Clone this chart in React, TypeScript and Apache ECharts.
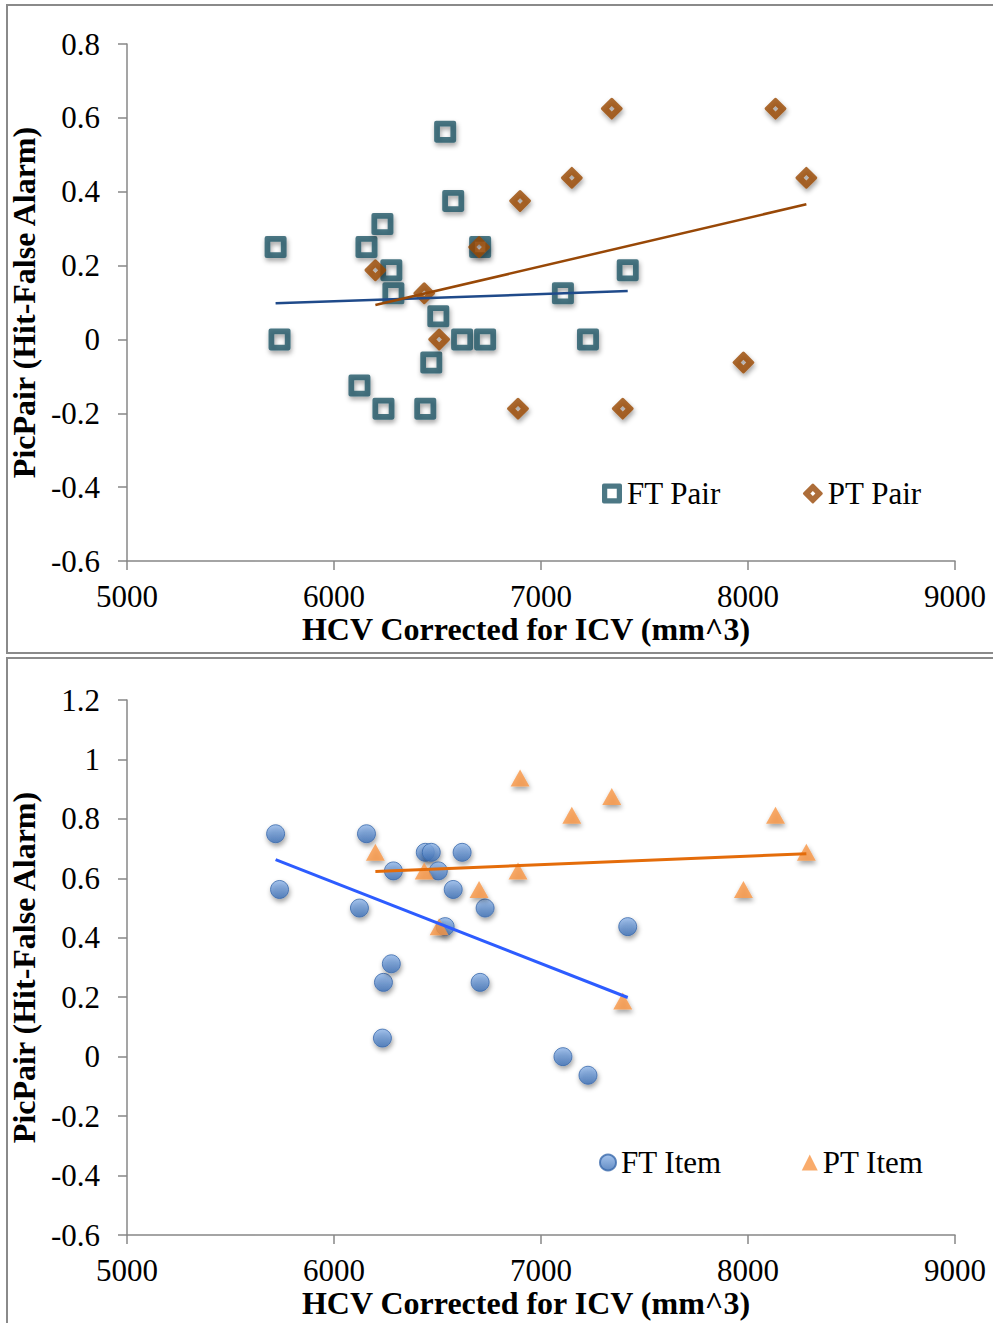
import React, { useEffect, useRef } from "react";
import * as echarts from "echarts";

// HCV values (x) of the two groups
const ftHcv = [5718, 5737, 6123, 6157, 6234, 6239, 6277, 6287, 6441, 6470, 6504, 6537, 6576, 6619, 6706, 6730, 7106, 7227, 7419];
const ptHcv = [6200, 6436, 6508, 6701, 6889, 6899, 7149, 7342, 7395, 7978, 8133, 8282];

// Top chart: pair scores
const ftPair = [0.25, 0, -0.125, 0.25, 0.3125, -0.1875, 0.1875, 0.125, -0.1875, -0.0625, 0.0625, 0.5625, 0.375, 0, 0.25, 0, 0.125, 0, 0.1875];
const ptPair = [0.1875, 0.125, 0, 0.25, -0.1875, 0.375, 0.4375, 0.625, -0.1875, -0.0625, 0.625, 0.4375];

// Bottom chart: item scores
const ftItem = [0.75, 0.5625, 0.5, 0.75, 0.0625, 0.25, 0.3125, 0.625, 0.6875, 0.6875, 0.625, 0.4375, 0.5625, 0.6875, 0.25, 0.5, 0, -0.0625, 0.4375];
const ptItem = [0.6875, 0.625, 0.4375, 0.5625, 0.625, 0.9375, 0.8125, 0.875, 0.1875, 0.5625, 0.8125, 0.6875];

// Linear trend line end points
const ftPairTrend = [[5718, 0.098], [7419, 0.131]];
const ptPairTrend = [[6200, 0.093], [8282, 0.366]];
const ftItemTrend = [[5718, 0.663], [7419, 0.199]];
const ptItemTrend = [[6200, 0.623], [8282, 0.683]];

const xTitle = "HCV Corrected for ICV (mm^3)";
const yTitle = "PicPair (Hit-False Alarm)";

const FONT = "'Liberation Serif', 'Times New Roman', serif";
const AXIS_COLOR = "#878787";
const FT_PAIR_COLOR = "#1f5666";
const PT_PAIR_COLOR = "#984807";

// hollow marker shapes (outer outline with an inner hole drawn in reverse direction)
const HOLLOW_SQUARE =
  "path://M2,0 H19 Q21,0 21,2 V19 Q21,21 19,21 H2 Q0,21 0,19 V2 Q0,0 2,0 Z M5.5,5.5 V15.5 H15.5 V5.5 Z";
const HOLLOW_DIAMOND =
  "path://M9.5,1 Q10.5,0 11.5,1 L20,9.5 Q21,10.5 20,11.5 L11.5,20 Q10.5,21 9.5,20 L1,11.5 Q0,10.5 1,9.5 Z M10.5,8 L8,10.5 L10.5,13 L13,10.5 Z";

const zip = (xs: number[], ys: number[]) => xs.map((x, i) => [x, ys[i]]);

const shadow = {
  shadowBlur: 5,
  shadowColor: "rgba(0,0,0,0.45)",
  shadowOffsetX: 1,
  shadowOffsetY: 3,
};
const noShadow = { shadowBlur: 0, shadowOffsetX: 0, shadowOffsetY: 0, shadowColor: "transparent" };

function xAxisFor(gridIndex: number) {
  return {
    gridIndex,
    type: "value",
    min: 5000,
    max: 9000,
    interval: 1000,
    name: xTitle,
    nameLocation: "middle",
    nameGap: 52,
    nameTextStyle: { fontSize: 32, fontWeight: "bold", color: "#000", fontFamily: FONT, padding: [0, 30, 0, 0] },
    axisLine: { show: true, onZero: false, lineStyle: { color: AXIS_COLOR, width: 1.5 } },
    axisTick: { show: true, length: 9, lineStyle: { color: AXIS_COLOR, width: 1.5 } },
    axisLabel: { fontSize: 31, color: "#000", fontFamily: FONT, margin: 20, formatter: (v: number) => String(v) },
    splitLine: { show: false },
  };
}

function yAxisFor(gridIndex: number, min: number, max: number) {
  return {
    gridIndex,
    type: "value",
    min,
    max,
    interval: 0.2,
    name: yTitle,
    nameLocation: "middle",
    nameGap: 73,
    nameTextStyle: { fontSize: 32, fontWeight: "bold", color: "#000", fontFamily: FONT },
    axisLine: { show: true, onZero: false, lineStyle: { color: AXIS_COLOR, width: 1.5 } },
    axisTick: { show: true, length: 9, lineStyle: { color: AXIS_COLOR, width: 1.5 } },
    axisLabel: {
      fontSize: 31,
      color: "#000",
      fontFamily: FONT,
      margin: 27,
      formatter: (v: number) => String(Math.round(v * 10) / 10),
    },
    splitLine: { show: false },
  };
}

export default function App() {
  const ref = useRef<HTMLDivElement>(null);

  useEffect(() => {
    if (!ref.current) return;
    const chart = echarts.init(ref.current, null, { renderer: "svg" });

    const circleFill = new echarts.graphic.LinearGradient(0, 0, 0, 1, [
      { offset: 0, color: "#8fb5e8" },
      { offset: 1, color: "#3d70b6" },
    ]);

    const legendCommon = {
      padding: 0,
      textStyle: { fontSize: 31, color: "#000", fontFamily: FONT },
    };

    const option: any = {
      animation: false,
      textStyle: { fontFamily: FONT },
      graphic: [
        {
          type: "rect",
          shape: { x: 7, y: 5, width: 1000, height: 648 },
          style: { fill: "none", stroke: "#8a8a8a", lineWidth: 2 },
          silent: true,
        },
        {
          type: "rect",
          shape: { x: 7, y: 658, width: 1000, height: 700 },
          style: { fill: "none", stroke: "#8a8a8a", lineWidth: 2 },
          silent: true,
        },
      ],
      grid: [
        { left: 126, width: 829, top: 44, height: 517 },
        { left: 126, width: 829, top: 700, height: 535 },
      ],
      xAxis: [xAxisFor(0), xAxisFor(1)],
      yAxis: [yAxisFor(0, -0.6, 0.8), yAxisFor(1, -0.6, 1.2)],
      legend: [
        {
          ...legendCommon,
          left: 602,
          top: 478,
          itemWidth: 20,
          itemHeight: 20,
          itemTextGap: 5,
          itemGap: 82,
          data: [
            { name: "FT Pair", itemStyle: { ...noShadow } },
            { name: "PT Pair", itemStyle: { ...noShadow } },
          ],
        },
        {
          ...legendCommon,
          left: 599,
          top: 1147,
          itemWidth: 16,
          itemHeight: 16,
          itemTextGap: 7,
          itemGap: 80,
          data: [
            { name: "FT Item", itemStyle: { ...noShadow } },
            { name: "PT Item", itemStyle: { ...noShadow } },
          ],
        },
      ],
      series: [
        {
          name: "FT Pair",
          type: "scatter",
          xAxisIndex: 0,
          yAxisIndex: 0,
          symbol: HOLLOW_SQUARE,
          symbolSize: 22,
          itemStyle: { color: FT_PAIR_COLOR, ...shadow },
          data: zip(ftHcv, ftPair),
        },
        {
          name: "PT Pair",
          type: "scatter",
          xAxisIndex: 0,
          yAxisIndex: 0,
          symbol: HOLLOW_DIAMOND,
          symbolSize: 22,
          itemStyle: { color: PT_PAIR_COLOR, ...shadow },
          data: zip(ptHcv, ptPair),
        },
        {
          name: "FT Pair trend",
          type: "line",
          xAxisIndex: 0,
          yAxisIndex: 0,
          symbol: "none",
          silent: true,
          lineStyle: { color: "#1f4a8a", width: 2.5 },
          data: ftPairTrend,
        },
        {
          name: "PT Pair trend",
          type: "line",
          xAxisIndex: 0,
          yAxisIndex: 0,
          symbol: "none",
          silent: true,
          lineStyle: { color: PT_PAIR_COLOR, width: 2.5 },
          data: ptPairTrend,
        },
        {
          name: "FT Item",
          type: "scatter",
          xAxisIndex: 1,
          yAxisIndex: 1,
          symbol: "circle",
          symbolSize: 18,
          itemStyle: { color: circleFill, borderColor: "#3a69ab", borderWidth: 1, ...shadow },
          data: zip(ftHcv, ftItem),
        },
        {
          name: "PT Item",
          type: "scatter",
          xAxisIndex: 1,
          yAxisIndex: 1,
          symbol: "triangle",
          symbolSize: [19, 17],
          itemStyle: { color: "#f79646", ...shadow },
          data: zip(ptHcv, ptItem),
        },
        {
          name: "FT Item trend",
          type: "line",
          xAxisIndex: 1,
          yAxisIndex: 1,
          symbol: "none",
          silent: true,
          lineStyle: { color: "#2d5cff", width: 3 },
          data: ftItemTrend,
        },
        {
          name: "PT Item trend",
          type: "line",
          xAxisIndex: 1,
          yAxisIndex: 1,
          symbol: "none",
          silent: true,
          lineStyle: { color: "#e46c0a", width: 3 },
          data: ptItemTrend,
        },
      ],
    };

    chart.setOption(option);
    return () => chart.dispose();
  }, []);

  return (
    <div
      ref={ref}
      style={{ position: "absolute", left: 0, top: 0, width: 993, height: 1323, background: "#fff" }}
    />
  );
}
